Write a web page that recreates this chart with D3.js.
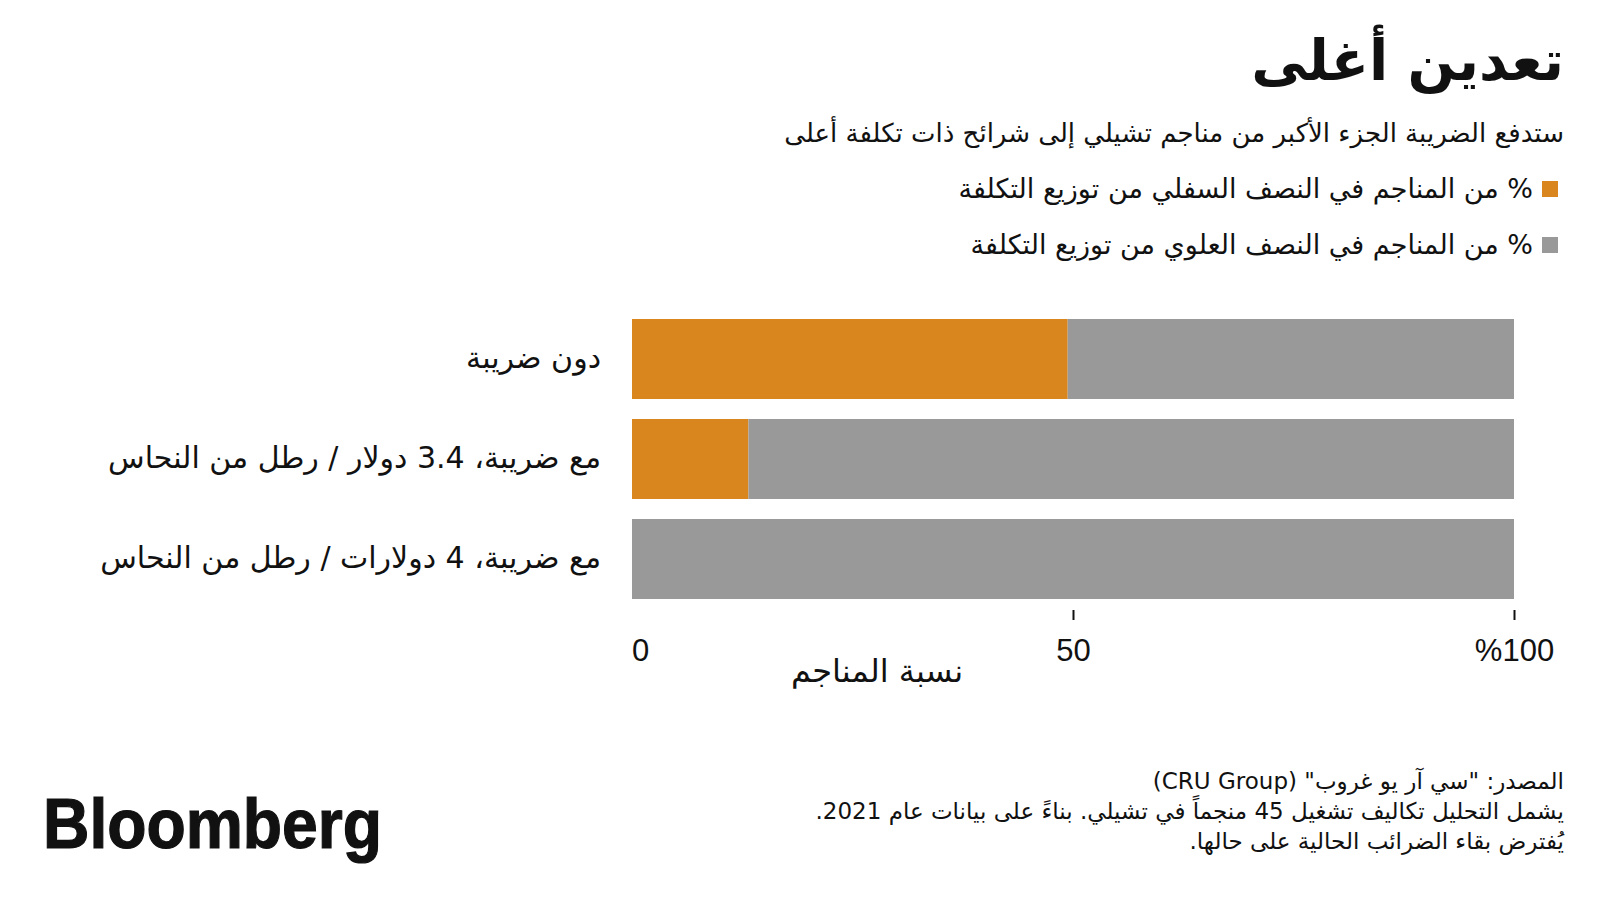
<!DOCTYPE html>
<html><head><meta charset="utf-8">
<script src="https://cdn.jsdelivr.net/npm/d3@7"></script>
<style>
html,body{margin:0;padding:0;background:#fff;}
svg{display:block;}
text{font-family:"DejaVu Sans","Noto Sans",sans-serif;fill:#111;}
</style></head>
<body>
<svg id="c" width="1600" height="900"></svg>
<script>
const title = "تعدين أغلى";
const subtitle = "ستدفع الضريبة الجزء الأكبر من مناجم تشيلي إلى شرائح ذات تكلفة أعلى";
const seriesNames = ["% من المناجم في النصف السفلي من توزيع التكلفة", "% من المناجم في النصف العلوي من توزيع التكلفة"];
const seriesColors = ["#d9861e", "#999999"];
const categories = ["دون ضريبة", "مع ضريبة، 3.4 دولار / رطل من النحاس", "مع ضريبة، 4 دولارات / رطل من النحاس"];
const lowerHalf = [49.4, 13.2, 0];
const upperHalf = [50.6, 86.8, 100];
const tickValues = [0, 50, 100];
const tickLabels = ["0", "50", "%100"];
const axisTitle = "نسبة المناجم";
const footer = ["المصدر: \"سي آر يو غروب\" (CRU Group)", "يشمل التحليل تكاليف تشغيل 45 منجماً في تشيلي. بناءً على بيانات عام 2021.", "يُفترض بقاء الضرائب الحالية على حالها."];

const svg = d3.select("#c");
const R = 1564;

svg.append("text").attr("x", R).attr("y", 80).attr("direction","rtl").attr("text-anchor","start")
  .attr("font-size", 56).attr("font-weight","bold").text(title);
svg.append("text").attr("x", R).attr("y", 142).attr("direction","rtl").attr("text-anchor","start")
  .attr("font-size", 26).text(subtitle);

const leg = svg.append("g");
seriesNames.forEach((n,i)=>{
  const y = 189 + i*56;
  leg.append("rect").attr("x", 1542).attr("y", y-8).attr("width",16).attr("height",16).attr("fill", seriesColors[i]);
  leg.append("text").attr("x", 1533).attr("y", y).attr("dy","0.35em").attr("direction","rtl").attr("text-anchor","start")
    .attr("font-size", 27).text(n);
});

const x = d3.scaleLinear().domain([0,100]).range([632,1514]);
const y = d3.scaleBand().domain(categories).range([319,599]).paddingInner(0.2).paddingOuter(0);

const data = categories.map((c,i)=>({cat:c, lo:lowerHalf[i], hi:upperHalf[i]}));
const stack = d3.stack().keys(["lo","hi"])(data);
svg.append("g").selectAll("g").data(stack).join("g").attr("fill",(d,i)=>seriesColors[i])
  .selectAll("rect").data(d=>d).join("rect")
  .attr("x", d=>x(d[0])).attr("width", d=>x(d[1])-x(d[0]))
  .attr("y", d=>y(d.data.cat)).attr("height", y.bandwidth());

svg.append("g").selectAll("text").data(categories).join("text")
  .attr("x", 601).attr("y", d=>y(d)+y.bandwidth()/2).attr("dy","0.3em")
  .attr("direction","rtl").attr("text-anchor","start").attr("font-size", 30).text(d=>d);

const axis = d3.axisBottom(x).tickValues(tickValues).tickSize(10).tickFormat((d,i)=>tickLabels[i]);
const ag = svg.append("g").attr("transform","translate(0,610)").call(axis);
ag.select(".domain").remove();
ag.selectAll(".tick line").attr("stroke","#111").attr("stroke-width",2).attr("y1",0).attr("y2",10);
ag.selectAll(".tick line").filter(d=>d===0).remove();
ag.selectAll(".tick text").attr("fill","#111").attr("font-size",31)
  .style("font-family","'Liberation Sans', Arial, sans-serif").attr("y",40).attr("dy","0.35em");
ag.selectAll(".tick text").filter(d=>d===0).attr("dx", 8);

svg.append("text").attr("x", 877).attr("y", 671).attr("dy","0.35em").attr("text-anchor","middle")
  .attr("direction","rtl").attr("font-size", 32).text(axisTitle);

footer.forEach((f,i)=>{
  svg.append("text").attr("x", R).attr("y", 781 + i*30).attr("dy","0.35em").attr("direction","rtl").attr("text-anchor","start")
    .attr("font-size", 23).text(f);
});

svg.append("text").attr("x", 43).attr("y", 848)
  .style("font-family","'Liberation Sans', Arial, sans-serif")
  .attr("font-weight","bold").attr("font-size", 70).attr("textLength", 339).attr("lengthAdjust","spacingAndGlyphs")
  .attr("stroke","#111").attr("stroke-width",1.2)
  .attr("fill","#111").text("Bloomberg");
</script>
</body></html>
